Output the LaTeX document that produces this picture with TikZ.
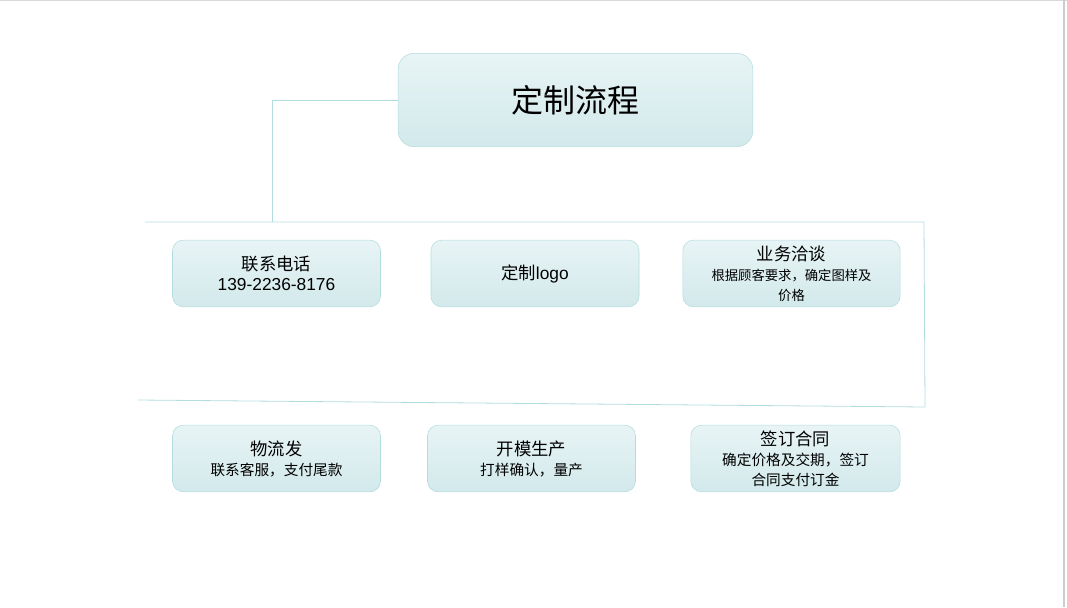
\documentclass[tikz,border=0pt]{standalone}
\usepackage{fontspec}
\setmainfont{Liberation Sans}
\newfontfamily\cjk{Noto Sans CJK SC}
\usetikzlibrary{positioning}
\definecolor{boxtop}{HTML}{E8F4F5}
\definecolor{boxbot}{HTML}{D2E9EB}
\definecolor{boxline}{HTML}{B3DCDF}
\newcommand{\subtxt}{\fontsize{11}{13}\selectfont}
\newcommand{\smalltxt}{\fontsize{10}{12}\selectfont}
\tikzset{%
  % node styles
    base/.style = {rectangle, rounded corners=8pt, draw=boxline,
                   top color=boxtop, bottom color=boxbot,
                   align=center, text centered, inner sep=1pt},
    titleBox/.style = {base, minimum width=266pt, minimum height=70pt,
                       rounded corners=12pt, font=\cjk\fontsize{24}{28}\selectfont},
    stepBox/.style = {base, minimum width=156pt, minimum height=50pt,
                      font=\cjk\fontsize{13}{15}\selectfont},
    link/.style = {draw=boxline, line width=0.6pt},
}
\begin{document}
\begin{tikzpicture}[x=0.75pt, y=-0.75pt]
  \useasboundingbox (0,0) rectangle (1067,607);
  \draw[gray!30] (0,0.5) -- (1067,0.5);
  \draw[gray!40, line width=1.5pt] (1064,0) -- (1064,607);
  % Specification of nodes
  \node (title)  [titleBox]  at (575.5,100) {定制流程};
  \node (phone)  [stepBox]   at (276.5,273.5) {联系电话\\\rmfamily 139-2236-8176};
  \node (logo)   [stepBox]   at (535,273.5) {定制{\rmfamily logo}};
  \node (talk)   [stepBox, minimum width=163pt] at (791.5,273.5)
                 {业务洽谈\\\smalltxt 根据顾客要求，确定图样及\\\smalltxt 价格};
  \node (ship)   [stepBox]   at (276.5,458.5) {物流发\\\subtxt 联系客服，支付尾款};
  \node (mould)  [stepBox]   at (531.5,458.5) {开模生产\\\subtxt 打样确认，量产};
  \node (sign)   [stepBox, minimum width=157pt] at (795.5,458.5)
                 {签订合同\\\subtxt 确定价格及交期，签订\\\subtxt 合同支付订金};
  % connector lines
  \coordinate (lineStart) at (145,222);
  \coordinate (lineEnd)   at (138,400);
  \draw[link] (title.west) -| (272,222);
  \draw[link] (lineStart) -- (924,222) -- (925,407) -- (lineEnd);
\end{tikzpicture}
\end{document}
